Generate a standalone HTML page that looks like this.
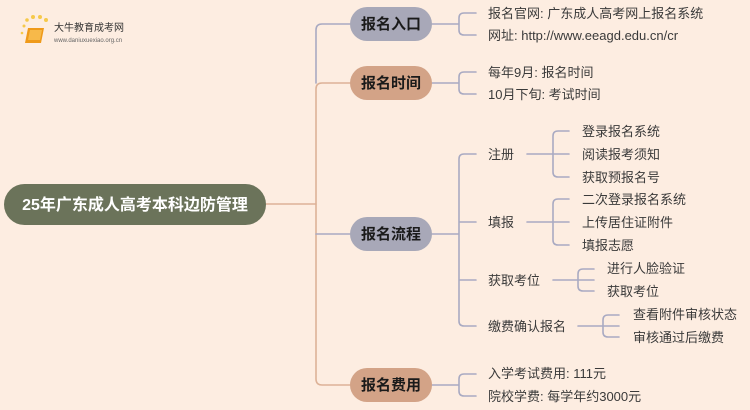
<!DOCTYPE html>
<html><head><meta charset="utf-8"><style>
html,body{margin:0;padding:0;background:#fdede1;}
svg{display:block}
text{font-family:"Liberation Sans","Noto Sans CJK SC",sans-serif;}
.l{font-size:13px;fill:#3a3a3a;}
.b{font-size:15px;font-weight:bold;fill:#1a1a1a;}
</style></head><body>
<svg width="750" height="410" viewBox="0 0 750 410" xmlns="http://www.w3.org/2000/svg">
<rect width="750" height="410" fill="#fdede1"/>
<!-- logo -->
<g>
<circle cx="24" cy="26" r="1.5" fill="#f6c94a"/><circle cx="27" cy="20" r="1.8" fill="#f6c94a"/><circle cx="33" cy="17" r="2" fill="#f6c94a"/><circle cx="40" cy="17" r="2" fill="#f6c94a"/><circle cx="46" cy="20" r="2" fill="#f6c94a"/><circle cx="22" cy="33" r="1.3" fill="#f6c94a"/>
<path d="M28 28 L44 28 L41 43 L25 43 Z" fill="#ef9a1a"/><path d="M30 30 L42 30 L40 40 L28 40 Z" fill="#f7b94a"/>
<text x="54" y="31" font-size="10" fill="#333">大牛教育成考网</text>
<text x="54" y="42" font-size="6" fill="#666">www.daniuxuexiao.org.cn</text>
</g>
<g fill="none" stroke-width="1.6" stroke-linecap="round">
<!-- spine -->
<path d="M266 204 H316" stroke="#ddb297"/>
<path d="M350 24 H322 Q316 24 316 30 V83" stroke="#a9aac2"/>
<path d="M350 83 H322 Q316 83 316 89 V379 Q316 385 322 385 H350" stroke="#ddb297"/>
<path d="M316 234 H350" stroke="#a9aac2"/>
<!-- 入口 -->
<path d="M432 24 H459 M476 13 H464 Q459 13 459 18 V30 Q459 35 464 35 H476" stroke="#a9aac2"/>
<path d="M432 83 H459 M476 72 H464 Q459 72 459 77 V89 Q459 94 464 94 H476" stroke="#a9aac2"/>
<path d="M432 234 H459 M476 154 H464 Q459 154 459 159 V321 Q459 326 464 326 H476 M459 222 H476 M459 280 H476" stroke="#a9aac2"/>
<path d="M432 385 H459 M476 374 H464 Q459 374 459 379 V391 Q459 396 464 396 H476" stroke="#a9aac2"/>
<!-- 注册 -->
<path d="M527 154 H569 M569 131 H558 Q553 131 553 136 V172 Q553 177 558 177 H569" stroke="#a9aac2"/>
<path d="M527 222 H569 M569 199 H558 Q553 199 553 204 V240 Q553 245 558 245 H569" stroke="#a9aac2"/>
<path d="M553 280 H594 M594 269 H583 Q578 269 578 274 V286 Q578 291 583 291 H594" stroke="#a9aac2"/>
<path d="M578 326 H619 M619 315 H608 Q603 315 603 320 V332 Q603 337 608 337 H619" stroke="#a9aac2"/>
</g>
<!-- nodes -->
<rect x="4" y="184" width="262" height="41" rx="20.5" fill="#6b735a"/>
<text x="135" y="210" text-anchor="middle" font-size="16" font-weight="bold" fill="#fff">25年广东成人高考本科边防管理</text>
<rect x="350" y="7" width="82" height="34" rx="17" fill="#a8a8b8"/><text class="b" x="391" y="29" text-anchor="middle">报名入口</text>
<rect x="350" y="66" width="82" height="34" rx="17" fill="#d3a387"/><text class="b" x="391" y="88" text-anchor="middle">报名时间</text>
<rect x="350" y="217" width="82" height="34" rx="17" fill="#a8a8b8"/><text class="b" x="391" y="239" text-anchor="middle">报名流程</text>
<rect x="350" y="368" width="82" height="34" rx="17" fill="#d3a387"/><text class="b" x="391" y="390" text-anchor="middle">报名费用</text>
<!-- leaves -->
<text class="l" x="488" y="18">报名官网: 广东成人高考网上报名系统</text>
<text class="l" x="488" y="40">网址: http://www.eeagd.edu.cn/cr</text>
<text class="l" x="488" y="77">每年9月: 报名时间</text>
<text class="l" x="488" y="99">10月下旬: 考试时间</text>
<text class="l" x="488" y="159">注册</text>
<text class="l" x="488" y="227">填报</text>
<text class="l" x="488" y="285">获取考位</text>
<text class="l" x="488" y="331">缴费确认报名</text>
<text class="l" x="582" y="136">登录报名系统</text>
<text class="l" x="582" y="159">阅读报考须知</text>
<text class="l" x="582" y="182">获取预报名号</text>
<text class="l" x="582" y="204">二次登录报名系统</text>
<text class="l" x="582" y="227">上传居住证附件</text>
<text class="l" x="582" y="250">填报志愿</text>
<text class="l" x="607" y="273">进行人脸验证</text>
<text class="l" x="607" y="296">获取考位</text>
<text class="l" x="633" y="319">查看附件审核状态</text>
<text class="l" x="633" y="342">审核通过后缴费</text>
<text class="l" x="488" y="378">入学考试费用: 111元</text>
<text class="l" x="488" y="401">院校学费: 每学年约3000元</text>
</svg>
</body></html>
